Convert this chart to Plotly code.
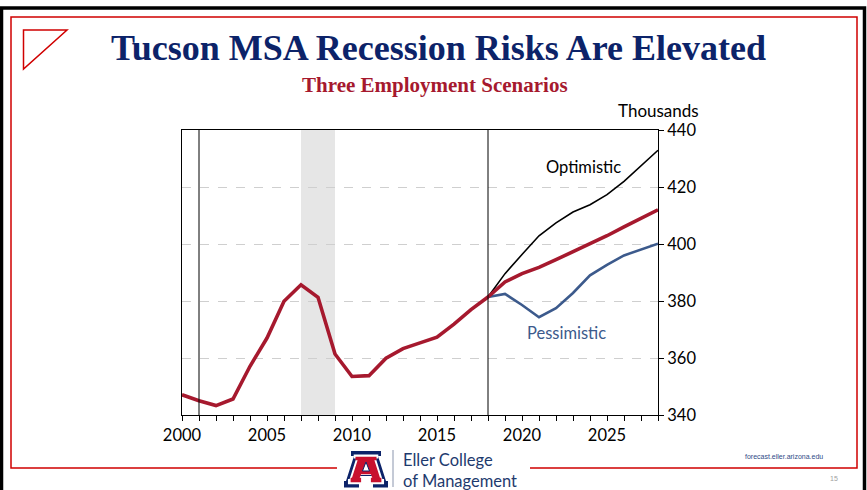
import plotly.graph_objects as go

# Annual employment, Tucson MSA (thousands)
years_hist = list(range(2000, 2019))
history = [347.1, 345.0, 343.3, 345.6, 357.1, 367.0, 379.9, 385.7, 381.3, 361.4,
           353.5, 353.8, 359.9, 363.3, 365.3, 367.3, 371.9, 377.0, 381.4]

years_fcst = list(range(2018, 2029))
baseline = [381.4, 386.7, 389.6, 391.8, 394.5, 397.2, 400.0, 402.9, 406.0, 409.0, 412.0]
optimistic = [381.4, 389.6, 396.3, 402.9, 407.4, 411.2, 413.8, 417.3, 422.0, 427.5, 432.9]
pessimistic = [381.4, 382.5, 378.6, 374.3, 377.5, 382.8, 389.0, 392.7, 396.0, 398.0, 400.1]

x_ticks = [2000, 2005, 2010, 2015, 2020, 2025]
y_ticks = [340, 360, 380, 400, 420, 440]

W, H = 867, 490
L, R, T, B = 182, 658, 130, 415

RED = "#A6192E"
NAVY = "#0C2369"
BLUE = "#3C5A8C"
BORDER_RED = "#D00000"


def px(x):
    return (x - L) / (R - L)


def py(y):
    return (B - y) / (B - T)


def path(points, close=True):
    s = "M " + " L ".join(f"{px(x):.5f},{py(y):.5f}" for x, y in points)
    return s + (" Z" if close else "")


fig = go.Figure()

fig.add_trace(go.Scatter(x=years_fcst, y=optimistic, mode="lines",
                         line=dict(color="black", width=1.6), hoverinfo="skip"))
fig.add_trace(go.Scatter(x=years_fcst, y=pessimistic, mode="lines",
                         line=dict(color=BLUE, width=2.6), hoverinfo="skip"))
fig.add_trace(go.Scatter(x=years_fcst, y=baseline, mode="lines",
                         line=dict(color=RED, width=3.6), hoverinfo="skip"))
fig.add_trace(go.Scatter(x=years_hist, y=history, mode="lines",
                         line=dict(color=RED, width=3.6), hoverinfo="skip"))

shapes = []
# Great Recession band
shapes.append(dict(type="rect", xref="x", yref="y", x0=2007, x1=2009, y0=340, y1=440,
                   fillcolor="#E6E6E6", line=dict(width=0), layer="below"))
# Markers for 2001 and the forecast start
for xv in (2001, 2018):
    shapes.append(dict(type="line", xref="x", yref="y", x0=xv, x1=xv, y0=340, y1=440,
                       line=dict(color="black", width=1)))

# Slide frame: black outer edge and red inner border broken by the logo
shapes.append(dict(type="path", xref="paper", yref="paper",
                   path=path([(1.5, 490), (1.5, 8), (864.5, 8), (864.5, 490)], close=False),
                   line=dict(color="black", width=3.5)))
shapes.append(dict(type="path", xref="paper", yref="paper",
                   path=path([(337, 468), (11, 468), (11, 17), (857, 17), (857, 468), (530, 468)],
                             close=False),
                   line=dict(color=BORDER_RED, width=1.5)))
# Corner triangle
shapes.append(dict(type="path", xref="paper", yref="paper",
                   path=path([(23.5, 30), (67, 30), (23.5, 69)]),
                   line=dict(color=BORDER_RED, width=1.5)))

# Block "A" logo
A_outer = [(351, 451), (381, 451), (381, 456), (378, 456), (386, 481), (388, 481),
           (388, 487.5), (373, 487.5), (373, 481), (375, 481), (373, 476), (359, 476),
           (357, 481), (359, 481), (359, 487.5), (344, 487.5), (344, 481), (346, 481),
           (354, 456), (351, 456)]
cx, cy = 366, 470


def scaled(pts, k):
    return [(cx + (x - cx) * k, cy + (y - cy) * k) for x, y in pts]


shapes.append(dict(type="path", xref="paper", yref="paper", path=path(A_outer),
                   fillcolor=NAVY, line=dict(width=0)))
shapes.append(dict(type="path", xref="paper", yref="paper", path=path(scaled(A_outer, 0.82)),
                   fillcolor="white", line=dict(width=0)))
shapes.append(dict(type="path", xref="paper", yref="paper", path=path(scaled(A_outer, 0.7)),
                   fillcolor="#C8102E", line=dict(width=0)))
shapes.append(dict(type="path", xref="paper", yref="paper",
                   path=path([(362.5, 471), (369.5, 471), (366, 462)]),
                   fillcolor="white", line=dict(color=NAVY, width=1)))
shapes.append(dict(type="line", xref="paper", yref="paper",
                   x0=px(393), x1=px(393), y0=py(450), y1=py(487),
                   line=dict(color="#8A95AD", width=1)))

annotations = [
    dict(text="<b>Tucson MSA Recession Risks Are Elevated</b>", x=px(438), y=py(48),
         font=dict(family="Liberation Serif", size=36, color=NAVY)),
    dict(text="<b>Three Employment Scenarios</b>", x=px(435), y=py(85),
         font=dict(family="Liberation Serif", size=21, color=RED)),
    dict(text="Thousands", x=px(658), y=py(110),
         font=dict(family="Lato", size=17, color="black")),
    dict(text="Optimistic", x=2023.6, y=427, xref="x", yref="y",
         font=dict(family="Lato", size=16.5, color="black")),
    dict(text="Pessimistic", x=2022.6, y=368.8, xref="x", yref="y",
         font=dict(family="Lato", size=16.5, color=BLUE)),
    dict(text="Eller College<br>of Management", x=px(401), y=py(470), xanchor="left",
         align="left", font=dict(family="Lato", size=16.5, color="#1E3A6E")),
    dict(text="forecast.eller.arizona.edu", x=px(784), y=py(456),
         font=dict(family="Liberation Sans", size=7, color="#2E4A86")),
    dict(text="15", x=px(834), y=py(478),
         font=dict(family="Liberation Sans", size=7, color="#A0A0A0")),
]
for a in annotations:
    a.setdefault("xref", "paper")
    a.setdefault("yref", "paper")
    a.update(showarrow=False, xanchor=a.get("xanchor", "center"), yanchor="middle")

fig.update_layout(
    width=W, height=H,
    margin=dict(l=L, r=W - R, t=T, b=H - B, pad=0),
    paper_bgcolor="white", plot_bgcolor="white",
    showlegend=False,
    shapes=shapes, annotations=annotations,
    font=dict(family="Lato", size=16, color="black"),
    xaxis=dict(range=[2000, 2028], tickvals=x_ticks, ticktext=[str(v) for v in x_ticks],
               ticks="outside", ticklen=5, tickwidth=1, tickcolor="black",
               minor=dict(dtick=1, tick0=2000, ticks="outside", ticklen=5,
                          tickcolor="black", showgrid=False),
               showline=True, linecolor="black", linewidth=1, mirror=True,
               showgrid=False, zeroline=False, tickfont=dict(size=16.5)),
    yaxis=dict(range=[340, 440], tickvals=y_ticks, side="right",
               ticks="outside", ticklen=5, tickwidth=1, tickcolor="black",
               showline=True, linecolor="black", linewidth=1, mirror=True,
               showgrid=True, gridcolor="#CFCFCF", griddash="dash", gridwidth=1,
               zeroline=False, tickfont=dict(size=16.5)),
)

fig.write_html("out.html")
